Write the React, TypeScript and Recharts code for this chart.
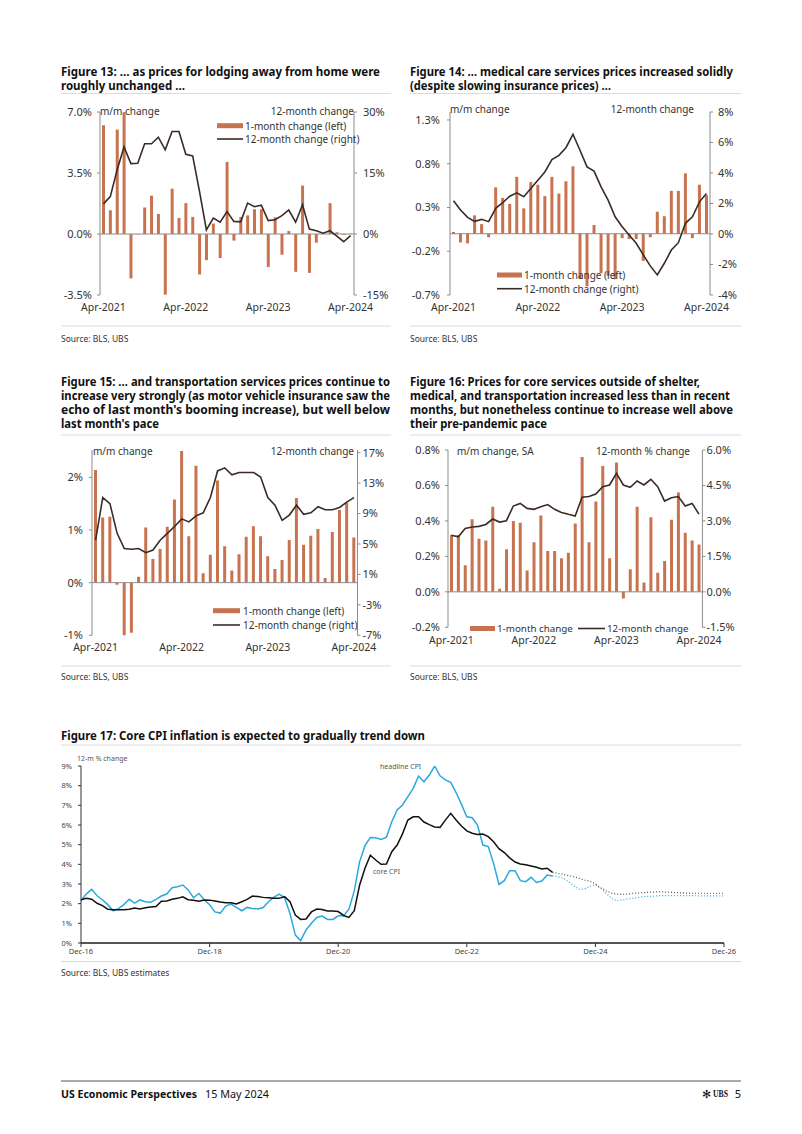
import React from 'react';
import { ComposedChart, LineChart, Bar, Line, XAxis, YAxis, ReferenceLine } from 'recharts';

const FONT = '"Noto Sans", "Open Sans", sans-serif';
const BAR_COLOR = '#c8734f';
const LINE_COLOR = '#3b2b25';
const TICK_COLOR = '#333';
const AXIS_COLOR = '#8c8c8c';
const CYAN = '#2ba8df';

const MONTH_ABBR = ['Jan', 'Feb', 'Mar', 'Apr', 'May', 'Jun', 'Jul', 'Aug', 'Sep', 'Oct', 'Nov', 'Dec'];
// Apr-2021 ... Apr-2024
const MONTHS = Array.from({ length: 37 }, (_, i) => `${MONTH_ABBR[(3 + i) % 12]}-${2021 + Math.floor((3 + i) / 12)}`);

// Figure 13: lodging away from home
const LODGING_MM = [6.24, 1.36, 5.99, 6.99, -2.55, -0.02, 1.52, 2.2, 1.15, -3.48, 2.6, 0.92, 1.77, 0.98, -2.32, -1.5, 0.6, -1.38, 4.13, -0.38, 0.98, 1.07, 1.42, 1.42, -1.9, 0.96, -1.19, 0.17, -2.17, 2.78, -2.23, -0.5, 0.03, 1.77, 0.1, -0.05, 0.02];
const LODGING_YOY = [7.4, 9.2, 15.8, 21.4, 17.3, 17.4, 22.2, 22.2, 23.8, 20.7, 25.2, 25.2, 19.6, 19.2, 10.4, 1.0, 3.9, 2.9, 5.5, 3.1, 3.0, 7.6, 6.7, 7.1, 3.3, 3.5, 4.5, 5.9, 2.9, 7.2, 1.2, 0.8, 0.2, 0.8, -0.5, -1.9, -0.4];

// Figure 14: medical care services
const MEDICAL_MM = [0.02, -0.1, -0.11, 0.21, 0.11, -0.04, 0.53, 0.41, 0.34, 0.65, 0.29, 0.59, 0.56, 0.43, 0.65, 0.46, 0.6, 0.77, -0.51, -0.6, 0.1, -0.45, -0.48, -0.52, -0.05, -0.06, -0.06, -0.31, -0.04, 0.25, 0.2, 0.49, 0.49, 0.69, -0.05, 0.56, 0.44];
const MEDICAL_YOY = [2.18, 1.57, 1.09, 0.83, 0.96, 0.81, 1.68, 2.05, 2.48, 2.7, 2.44, 2.98, 3.53, 4.07, 4.88, 5.16, 5.66, 6.54, 5.49, 4.4, 4.12, 3.09, 2.22, 1.13, 0.48, -0.07, -0.61, -1.37, -2.09, -2.68, -1.92, -1.05, -0.57, 0.7, 1.13, 2.11, 2.66];

// Figure 15: transportation services
const TRANSPORT_MM = [2.14, 1.24, 1.25, -0.04, -1.03, -0.95, 0.11, 1.05, 0.45, 0.64, 1.06, 1.58, 2.5, 0.88, 2.22, 0.18, 0.53, 1.94, 0.69, 0.23, 0.54, 0.87, 1.07, 0.88, 0.5, 0.26, 0.43, 0.81, 1.61, 0.72, 0.89, 1.02, 0.09, 0.96, 1.38, 1.52, 0.86];
const TRANSPORT_YOY = [5.5, 11.1, 10.3, 6.4, 4.4, 4.3, 4.4, 3.85, 4.2, 5.5, 6.4, 7.3, 8.3, 7.9, 8.7, 9.1, 11.1, 14.6, 15.0, 14.1, 14.4, 14.4, 14.4, 13.8, 11.1, 10.1, 8.1, 8.8, 10.1, 8.9, 9.1, 9.9, 9.5, 9.5, 9.8, 10.5, 11.1];

// Figure 16: other core services
const OTHER_MM = [0.32, 0.32, 0.15, 0.41, 0.3, 0.29, 0.48, 0.017, 0.24, 0.4, 0.39, 0.12, 0.28, 0.43, 0.23, 0.23, 0.19, 0.22, 0.385, 0.76, 0.28, 0.51, 0.71, 0.19, 0.73, -0.037, 0.127, 0.48, 0.052, 0.42, 0.108, 0.174, 0.407, 0.56, 0.333, 0.29, 0.267];
const OTHER_YOY = [2.39, 2.33, 2.68, 2.74, 2.77, 2.85, 3.08, 2.95, 3.01, 3.63, 3.74, 3.53, 3.49, 3.6, 3.69, 3.49, 3.36, 3.28, 3.21, 4.0, 4.03, 4.14, 4.45, 4.52, 5.01, 4.52, 4.42, 4.69, 4.52, 4.76, 4.45, 3.84, 3.98, 4.03, 3.63, 3.74, 3.29];

// Figure 17: monthly from Dec-16; actuals to Apr-24, forecast from Apr-24 to Dec-26
const CPI_TICK_LABELS = ['Dec-16', 'Dec-18', 'Dec-20', 'Dec-22', 'Dec-24', 'Dec-26'];
const HEADLINE_ACTUAL = [2.15, 2.5, 2.73, 2.4, 2.2, 1.95, 1.64, 1.75, 1.95, 2.22, 2.03, 2.19, 2.1, 2.07, 2.22, 2.39, 2.49, 2.81, 2.86, 2.95, 2.7, 2.3, 2.52, 2.2, 1.95, 1.58, 1.52, 1.88, 1.98, 1.81, 1.64, 1.81, 1.76, 1.73, 1.8, 2.1, 2.33, 2.49, 2.3, 1.5, 0.4, 0.12, 0.66, 1.0, 1.3, 1.37, 1.2, 1.2, 1.38, 1.39, 1.72, 2.65, 4.14, 4.95, 5.36, 5.35, 5.27, 5.38, 6.17, 6.76, 7.02, 7.44, 7.86, 8.49, 8.2, 8.54, 9.0, 8.5, 8.29, 8.17, 7.65, 7.05, 6.42, 6.37, 6.0, 4.98, 4.9, 4.05, 2.98, 3.17, 3.68, 3.68, 3.17, 3.12, 3.34, 3.08, 3.15, 3.46, 3.41];
const CORE_ACTUAL = [2.2, 2.27, 2.23, 2.02, 1.9, 1.72, 1.69, 1.69, 1.69, 1.72, 1.78, 1.73, 1.79, 1.83, 1.85, 2.12, 2.14, 2.22, 2.27, 2.35, 2.2, 2.17, 2.12, 2.19, 2.18, 2.14, 2.08, 2.05, 2.05, 1.98, 2.1, 2.22, 2.39, 2.36, 2.32, 2.3, 2.27, 2.27, 2.36, 2.1, 1.42, 1.2, 1.22, 1.58, 1.73, 1.7, 1.63, 1.63, 1.6, 1.4, 1.3, 1.64, 2.95, 3.8, 4.46, 4.22, 4.0, 4.02, 4.64, 4.98, 5.55, 6.25, 6.42, 6.42, 6.15, 6.02, 5.9, 5.88, 6.25, 6.59, 6.25, 5.95, 5.7, 5.58, 5.52, 5.54, 5.41, 5.15, 4.8, 4.6, 4.33, 4.12, 4.02, 3.98, 3.92, 3.85, 3.76, 3.8, 3.59];
const FORECAST_START = 88;
const HEADLINE_FCST = [3.41, 3.37, 3.29, 3.12, 2.9, 2.73, 2.75, 2.9, 2.95, 2.78, 2.53, 2.27, 2.15, 2.19, 2.24, 2.27, 2.32, 2.36, 2.37, 2.39, 2.41, 2.41, 2.41, 2.41, 2.41, 2.41, 2.41, 2.4, 2.4, 2.4, 2.4, 2.39, 2.39];
const CORE_FCST = [3.59, 3.54, 3.49, 3.42, 3.37, 3.29, 3.2, 3.14, 3.0, 2.81, 2.66, 2.53, 2.49, 2.47, 2.49, 2.53, 2.54, 2.56, 2.58, 2.59, 2.61, 2.59, 2.58, 2.56, 2.55, 2.54, 2.53, 2.53, 2.53, 2.53, 2.53, 2.53, 2.53];

const cpiData = Array.from({ length: 121 }, (_, m) => ({
  m,
  h: m < HEADLINE_ACTUAL.length ? HEADLINE_ACTUAL[m] : null,
  c: m < CORE_ACTUAL.length ? CORE_ACTUAL[m] : null,
  hf: m >= FORECAST_START ? HEADLINE_FCST[m - FORECAST_START] : null,
  cf: m >= FORECAST_START ? CORE_FCST[m - FORECAST_START] : null,
}));

const pct1 = (v: number) => `${v.toFixed(1)}%`;
const pct0 = (v: number) => `${v}%`;

type AxisCfg = {
  domain: [number, number];
  ticks: number[];
  fmt: (v: number) => string;
  tickMargin: number;
};

const tickStyle = { fontSize: 11, fill: TICK_COLOR, fontFamily: FONT };
const xTickStyle = { fontSize: 10.5, fill: TICK_COLOR, fontFamily: FONT };

function MonthlyChart(props: {
  x1: number; x2: number; y1: number; y2: number;
  mm: number[]; yoy: number[];
  left: AxisCfg; right: AxisCfg; xMargin: number;
}) {
  const { x1, x2, y1, y2, mm, yoy, left, right, xMargin } = props;
  const data = MONTHS.map((month, i) => ({ month, mm: mm[i], yoy: yoy[i] }));
  return (
    <div style={{ position: 'absolute', left: x1 - 50, top: y1 - 15 }}>
      <ComposedChart
        width={x2 - x1 + 100}
        height={y2 - y1 + 45}
        data={data}
        margin={{ top: 15, right: 0, bottom: 0, left: 0 }}
      >
        <XAxis
          dataKey="month"
          interval={11}
          axisLine={false}
          tickLine={false}
          tickSize={0}
          tickMargin={xMargin}
          height={30}
          tick={xTickStyle}
        />
        <YAxis
          yAxisId="l"
          orientation="left"
          width={50}
          domain={left.domain}
          ticks={left.ticks}
          tickFormatter={left.fmt}
          allowDataOverflow
          axisLine={{ stroke: AXIS_COLOR }}
          tickLine={{ stroke: AXIS_COLOR }}
          tickSize={3}
          tickMargin={left.tickMargin}
          tick={tickStyle}
        />
        <YAxis
          yAxisId="r"
          orientation="right"
          width={50}
          domain={right.domain}
          ticks={right.ticks}
          tickFormatter={right.fmt}
          allowDataOverflow
          axisLine={{ stroke: AXIS_COLOR }}
          tickLine={{ stroke: AXIS_COLOR }}
          tickSize={3}
          tickMargin={right.tickMargin}
          tick={tickStyle}
        />
        <ReferenceLine yAxisId="l" y={0} stroke={AXIS_COLOR} />
        <Bar yAxisId="l" dataKey="mm" fill={BAR_COLOR} barSize={3} isAnimationActive={false} />
        <Line yAxisId="r" type="linear" dataKey="yoy" stroke={LINE_COLOR} strokeWidth={1.6} dot={false} isAnimationActive={false} />
      </ComposedChart>
    </div>
  );
}

function CpiChart() {
  const small = { fontSize: 7.5, fill: '#444', fontFamily: FONT };
  return (
    <div style={{ position: 'absolute', left: 41, top: 756 }}>
      <LineChart width={703} height={212} data={cpiData} margin={{ top: 10, right: 20, bottom: 0, left: 0 }}>
        <XAxis
          type="number"
          dataKey="m"
          domain={[0, 120]}
          ticks={[0, 24, 48, 72, 96, 120]}
          tickFormatter={(v: number) => CPI_TICK_LABELS[Math.round(v / 24)]}
          height={25}
          axisLine={{ stroke: '#555', strokeWidth: 2 }}
          tickLine={{ stroke: '#333' }}
          tickSize={4}
          tickMargin={2}
          tick={small}
        />
        <YAxis
          domain={[0, 9]}
          ticks={[0, 1, 2, 3, 4, 5, 6, 7, 8, 9]}
          tickFormatter={pct0}
          width={40}
          allowDataOverflow
          axisLine={{ stroke: '#333' }}
          tickLine={{ stroke: '#333' }}
          tickSize={3}
          tickMargin={6}
          tick={small}
        />
        <Line type="linear" dataKey="hf" stroke={CYAN} strokeWidth={1.2} strokeDasharray="1 2" dot={false} isAnimationActive={false} />
        <Line type="linear" dataKey="cf" stroke="#555" strokeWidth={1.2} strokeDasharray="1 2" dot={false} isAnimationActive={false} />
        <Line type="linear" dataKey="h" stroke={CYAN} strokeWidth={1.5} dot={false} isAnimationActive={false} />
        <Line type="linear" dataKey="c" stroke="#111" strokeWidth={1.5} dot={false} isAnimationActive={false} />
      </LineChart>
    </div>
  );
}

function Txt(props: {
  x: number; y: number; size?: number; weight?: number; fill?: string;
  anchor?: 'start' | 'middle' | 'end'; len?: number; family?: string; children: React.ReactNode;
}) {
  const { x, y, size = 10, weight = 400, fill = '#222', anchor = 'start', len, family = FONT, children } = props;
  return (
    <text
      x={x}
      y={y}
      fontSize={size}
      fontWeight={weight}
      fill={fill}
      textAnchor={anchor}
      fontFamily={family}
      dominantBaseline="central"
      textLength={len}
      lengthAdjust={len ? 'spacingAndGlyphs' : undefined}
    >
      {children}
    </text>
  );
}

function Title({ x, y, lines }: { x: number; y: number; lines: [string, number][] }) {
  return (
    <>
      {lines.map(([s, end], i) => (
        <Txt key={i} x={x} y={y + i * 14} size={11.5} weight={700} fill="#111" len={end - x}>
          {s}
        </Txt>
      ))}
    </>
  );
}

function BarKey({ x, y, w }: { x: number; y: number; w: number }) {
  return <rect x={x} y={y - 2.5} width={w} height={5} fill={BAR_COLOR} />;
}

function LineKey({ x, y, w, color = LINE_COLOR }: { x: number; y: number; w: number; color?: string }) {
  return <line x1={x} x2={x + w} y1={y} y2={y} stroke={color} strokeWidth={1.6} />;
}

function Overlay() {
  const sep = '#dcdcdc';
  const cap = '#333';
  return (
    <svg width={802} height={1134} style={{ position: 'absolute', left: 0, top: 0, pointerEvents: 'none' }}>
      {/* titles */}
      <Title x={61} y={71.5} lines={[['Figure 13: … as prices for lodging away from home were', 380], ['roughly unchanged …', 185]]} />
      <Title x={410} y={71.5} lines={[['Figure 14: … medical care services prices increased solidly', 733], ['(despite slowing insurance prices) …', 611]]} />
      <Title
        x={61}
        y={381.7}
        lines={[
          ['Figure 15: … and transportation services prices continue to', 390],
          ['increase very strongly (as motor vehicle insurance saw the', 390],
          ["echo of last month's booming increase), but well below", 390],
          ["last month's pace", 159],
        ]}
      />
      <Title
        x={410}
        y={381.7}
        lines={[
          ['Figure 16: Prices for core services outside of shelter,', 700],
          ['medical, and transportation increased less than in recent', 730],
          ['months, but nonetheless continue to increase well above', 733],
          ['their pre-pandemic pace', 547],
        ]}
      />
      <Title x={61} y={735} lines={[['Figure 17: Core CPI inflation is expected to gradually trend down', 425]]} />

      {/* separators */}
      <line x1={61} x2={391} y1={93.5} y2={93.5} stroke={sep} />
      <line x1={410} x2={741} y1={93.5} y2={93.5} stroke={sep} />
      <line x1={61} x2={391} y1={326} y2={326} stroke={sep} />
      <line x1={410} x2={741} y1={326} y2={326} stroke={sep} />
      <line x1={61} x2={391} y1={435} y2={435} stroke={sep} />
      <line x1={410} x2={741} y1={435} y2={435} stroke={sep} />
      <line x1={61} x2={391} y1={666} y2={666} stroke={sep} />
      <line x1={410} x2={741} y1={666} y2={666} stroke={sep} />
      <line x1={61} x2={741} y1={745} y2={745} stroke={sep} />
      <line x1={61} x2={741} y1={961.5} y2={961.5} stroke={sep} />

      {/* sources */}
      <Txt x={61} y={338} size={8.5} fill={cap}>Source: BLS, UBS</Txt>
      <Txt x={410} y={338} size={8.5} fill={cap}>Source: BLS, UBS</Txt>
      <Txt x={61} y={676} size={8.5} fill={cap}>Source: BLS, UBS</Txt>
      <Txt x={410} y={676} size={8.5} fill={cap}>Source: BLS, UBS</Txt>
      <Txt x={61} y={972} size={8.5} fill={cap}>Source: BLS, UBS estimates</Txt>

      {/* figure 13 captions + legend */}
      <Txt x={100} y={110.7} fill={cap}>m/m change</Txt>
      <Txt x={354} y={110.7} anchor="end" fill={cap}>12-month change</Txt>
      <BarKey x={217} y={125.7} w={26} />
      <Txt x={245} y={125.7} fill={cap}>1-month change (left)</Txt>
      <LineKey x={217} y={139} w={26} />
      <Txt x={245} y={139} fill={cap}>12-month change (right)</Txt>

      {/* figure 14 */}
      <Txt x={450} y={109} fill={cap}>m/m change</Txt>
      <Txt x={694} y={109} anchor="end" fill={cap}>12-month change</Txt>
      <BarKey x={497} y={275} w={25} />
      <Txt x={524} y={275} fill={cap}>1-month change (left)</Txt>
      <LineKey x={497} y={288.7} w={25} />
      <Txt x={524} y={288.7} fill={cap}>12-month change (right)</Txt>

      {/* figure 15 */}
      <Txt x={93} y={451} fill={cap}>m/m change</Txt>
      <Txt x={354} y={451} anchor="end" fill={cap}>12-month change</Txt>
      <BarKey x={213} y={610.7} w={27} />
      <Txt x={243} y={610.7} fill={cap}>1-month change (left)</Txt>
      <LineKey x={213} y={625} w={27} />
      <Txt x={243} y={625} fill={cap}>12-month change (right)</Txt>

      {/* figure 16 */}
      <Txt x={457} y={451} fill={cap}>m/m change, SA</Txt>
      <Txt x={690} y={451} anchor="end" fill={cap}>12-month % change</Txt>
      <BarKey x={470} y={628.5} w={25} />
      <Txt x={497} y={628.5} size={9.8} fill={cap}>1-month change</Txt>
      <LineKey x={578} y={628.5} w={27} />
      <Txt x={607} y={628.5} size={9.8} fill={cap}>12-month change</Txt>

      {/* figure 17 */}
      <Txt x={77} y={758.3} size={7} fill="#555">12-m % change</Txt>
      <Txt x={380} y={766} size={7} fill="#555">headline CPI</Txt>
      <Txt x={373} y={871.7} size={7} fill="#555">core CPI</Txt>

      {/* footer */}
      <line x1={61} x2={741} y1={1081} y2={1081} stroke="#555" />
      <Txt x={61} y={1093} size={11} weight={700} fill="#111" len={136}>US Economic Perspectives</Txt>
      <Txt x={205} y={1093} size={11} fill="#111" len={64}>15 May 2024</Txt>
      <Txt x={702} y={1093} size={11} fill="#111">✻</Txt>
      <Txt x={713} y={1093} size={10.5} weight={700} fill="#111" len={15} family='"Liberation Serif", serif'>UBS</Txt>
      <Txt x={741} y={1093} size={11} fill="#111" anchor="end">5</Txt>
    </svg>
  );
}

export default function App() {
  return (
    <div style={{ position: 'absolute', left: 0, top: 0, width: 802, height: 1134, background: '#fff', fontFamily: FONT }}>
      <MonthlyChart
        x1={100} x2={354} y1={112} y2={295}
        mm={LODGING_MM} yoy={LODGING_YOY} xMargin={9}
        left={{ domain: [-3.5, 7], ticks: [-3.5, 0, 3.5, 7], fmt: pct1, tickMargin: 5 }}
        right={{ domain: [-15, 30], ticks: [-15, 0, 15, 30], fmt: pct0, tickMargin: 6 }}
      />
      <MonthlyChart
        x1={450} x2={710} y1={112} y2={295}
        mm={MEDICAL_MM} yoy={MEDICAL_YOY} xMargin={9}
        left={{ domain: [-0.7, 1.391], ticks: [-0.7, -0.2, 0.3, 0.8, 1.3], fmt: pct1, tickMargin: 7 }}
        right={{ domain: [-4, 8], ticks: [-4, -2, 0, 2, 4, 6, 8], fmt: pct0, tickMargin: 5 }}
      />
      <MonthlyChart
        x1={91.5} x2={357} y1={450} y2={635.3}
        mm={TRANSPORT_MM} yoy={TRANSPORT_YOY} xMargin={8}
        left={{ domain: [-1, 2.52], ticks: [-1, 0, 1, 2], fmt: pct0, tickMargin: 6 }}
        right={{ domain: [-7, 17.35], ticks: [-7, -3, 1, 5, 9, 13, 17], fmt: pct0, tickMargin: 2 }}
      />
      <MonthlyChart
        x1={448.3} x2={702.7} y1={450} y2={627.3}
        mm={OTHER_MM} yoy={OTHER_YOY} xMargin={9.5}
        left={{ domain: [-0.2, 0.8], ticks: [-0.2, 0, 0.2, 0.4, 0.6, 0.8], fmt: pct1, tickMargin: 5 }}
        right={{ domain: [-1.5, 6], ticks: [-1.5, 0, 1.5, 3, 4.5, 6], fmt: pct1, tickMargin: 1 }}
      />
      <CpiChart />
      <Overlay />
    </div>
  );
}
